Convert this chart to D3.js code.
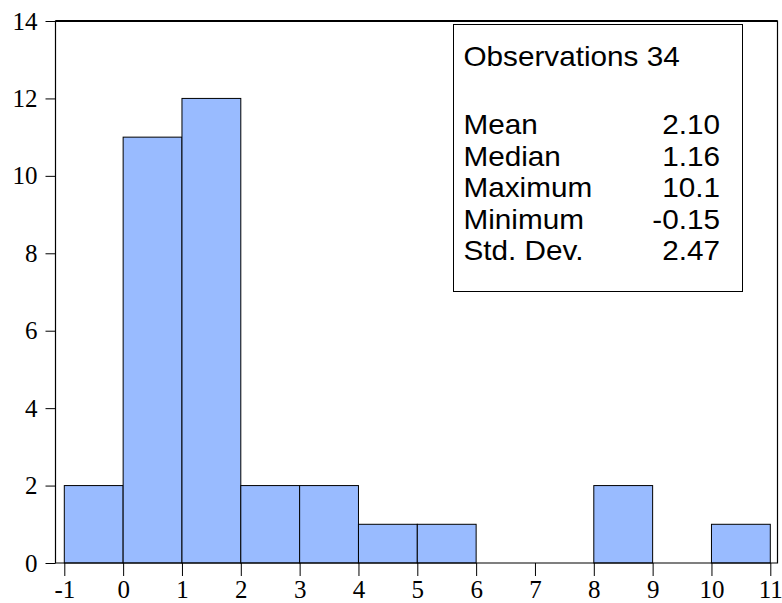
<!DOCTYPE html>
<html>
<head>
<meta charset="utf-8">
<script src="https://cdn.jsdelivr.net/npm/d3@7"></script>
<style>
  body { margin: 0; background: #fff; }
  svg { display: block; }
</style>
</head>
<body>
<div id="chart"></div>
<script>
'use strict'

// histogram bins (left edge, right edge) and counts
const binStarts = [-1, 0, 1, 2, 3, 4, 5, 6, 7, 8, 9, 10]
const binEnds = [0, 1, 2, 3, 4, 5, 6, 7, 8, 9, 10, 11]
const counts = [2, 11, 12, 2, 2, 1, 1, 0, 0, 2, 0, 1]

const xTicks = [-1, 0, 1, 2, 3, 4, 5, 6, 7, 8, 9, 10, 11]
const yTicks = [0, 2, 4, 6, 8, 10, 12, 14]

// summary statistics box
const statLabels = ['Mean', 'Median', 'Maximum', 'Minimum', 'Std. Dev.']
const statValues = ['2.10', '1.16', '10.1', '-0.15', '2.47']
const observations = 34

const width = 782
const height = 603

const svg = d3.select('#chart')
  .append('svg')
    .attr('width', width)
    .attr('height', height)

// plot frame edges
const frame = { left: 55.5, right: 777.5, top: 21, bottom: 563 }

const x = d3.scaleLinear()
  .domain([-1, 11])
  .range([64.3, 770.3])

const y = d3.scaleLinear()
  .domain([0, 14])
  .range([frame.bottom, frame.top])

const bins = counts.map((c, i) => ({ x0: binStarts[i], x1: binEnds[i], count: c }))

// bars
svg.append('g')
  .selectAll('rect')
  .data(bins.filter(d => d.count > 0))
  .join('rect')
    .attr('x', d => x(d.x0))
    .attr('y', d => y(d.count))
    .attr('width', d => x(d.x1) - x(d.x0))
    .attr('height', d => y(0) - y(d.count))
    .attr('fill', '#99bbff')
    .attr('stroke', '#000')
    .attr('stroke-width', 1)

// frame
svg.append('path')
  .attr('d', `M${frame.left},${frame.bottom}V${frame.top}H${frame.right}V${frame.bottom}Z`)
  .attr('fill', 'none')
  .attr('stroke', '#000')
  .attr('stroke-width', 1.2)
svg.append('line')
  .attr('x1', frame.left).attr('x2', frame.right)
  .attr('y1', frame.top).attr('y2', frame.top)
  .attr('stroke', '#000')
  .attr('stroke-width', 2)

const axisFont = '"Liberation Serif", serif'

// y axis
const yAxis = svg.append('g')
  .attr('transform', `translate(${frame.left},0)`)
  .call(d3.axisLeft(y).tickValues(yTicks).tickSize(10).tickPadding(8))
yAxis.select('.domain').remove()
yAxis.selectAll('text')
  .style('font-family', axisFont)
  .style('font-size', '25px')
  .attr('fill', '#000')

// x axis (plain hyphen for negatives, as in the original)
const xAxis = svg.append('g')
  .attr('transform', `translate(0,${frame.bottom})`)
  .call(d3.axisBottom(x).tickValues(xTicks).tickFormat(d => String(d)).tickSize(13).tickPadding(4))
xAxis.select('.domain').remove()
xAxis.selectAll('text')
  .style('font-family', axisFont)
  .style('font-size', '25px')
  .attr('fill', '#000')

// stats box
const box = { left: 453.5, top: 24.5, right: 742.5, bottom: 291.5 }
svg.append('rect')
  .attr('x', box.left)
  .attr('y', box.top)
  .attr('width', box.right - box.left)
  .attr('height', box.bottom - box.top)
  .attr('fill', '#fff')
  .attr('stroke', '#000')
  .attr('stroke-width', 1)

// the original text is a little wider than plain Arial, so stretch it slightly
const statFont = '"Liberation Sans", Arial, sans-serif'
const stretch = 1.1
const statText = (sel, px, py, anchor) => sel
  .attr('transform', `translate(${px},${py}) scale(${stretch},1)`)
  .attr('text-anchor', anchor)
  .attr('font-family', statFont)
  .attr('font-size', 27)

svg.append('text')
  .call(statText, 463.5, 65.5, 'start')
  .text(`Observations ${observations}`)

const rowY = d3.scaleLinear().domain([0, 4]).range([134.3, 260])

svg.append('g')
  .selectAll('text')
  .data(statLabels)
  .join('text')
    .each(function (d, i) { d3.select(this).call(statText, 463.5, rowY(i), 'start') })
    .text(d => d)

svg.append('g')
  .selectAll('text')
  .data(statValues)
  .join('text')
    .each(function (d, i) { d3.select(this).call(statText, 720, rowY(i), 'end') })
    .text(d => d)
</script>
</body>
</html>
